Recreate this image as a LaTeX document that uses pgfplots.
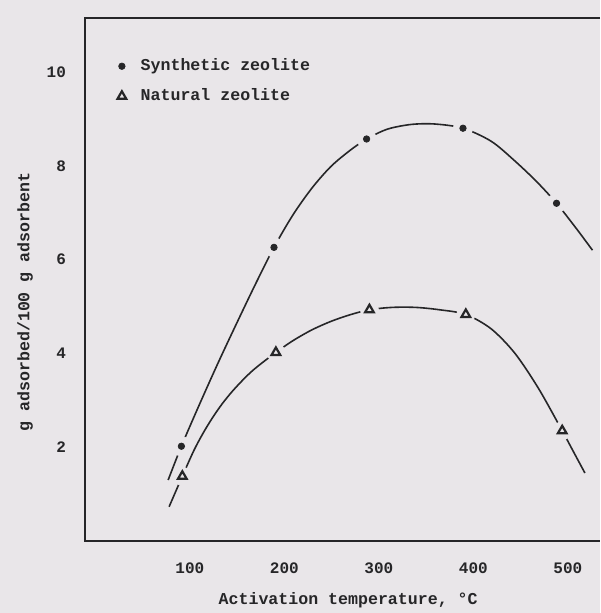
\documentclass[border=0pt]{standalone}
\usepackage{fontspec}
\setmainfont{Liberation Mono}
\usepackage{pgfplots}
\usepackage{pgfplotstable}
\pgfplotsset{compat=1.18}

\definecolor{paper}{RGB}{233,230,233}
\definecolor{ink}{RGB}{38,38,40}

% markers and points along the hand-drawn curves
\pgfplotstableread{
x y
102 2.02
200 6.26
298 8.57
400 8.80
499 7.20
}\synthpts

\pgfplotstableread{
x y
88 1.30
102 2.02
120 2.86
140 3.76
160 4.62
180 5.46
200 6.26
220 6.95
240 7.52
260 7.98
280 8.32
298 8.57
320 8.78
345 8.88
370 8.89
400 8.80
430 8.52
455 8.10
478 7.66
499 7.20
520 6.66
537 6.20
}\synthcurve

\pgfplotstableread{
x y
103 1.38
202 4.02
301 4.93
403 4.83
505 2.35
}\natpts

\pgfplotstableread{
x y
89 0.73
103 1.38
115 1.92
125 2.30
135 2.63
145 2.92
155 3.17
165 3.39
175 3.59
185 3.76
202 4.02
220 4.27
240 4.50
260 4.68
280 4.82
301 4.93
325 4.98
350 4.98
375 4.93
403 4.83
430 4.52
455 4.00
480 3.25
505 2.35
517 1.90
529 1.45
}\natcurve

\begin{document}
\begin{tikzpicture}
\fill[paper] (-42.5pt,-36pt) rectangle (257.5pt,270.5pt);
\begin{axis}[
    at={(0pt,0pt)}, anchor=south west,
    scale only axis,
    width=257.5pt, height=261.5pt,
    xmin=0, xmax=545,
    ymin=0, ymax=11.15,
    axis line style={draw=none},
    major tick length=0pt,
    xtick={100,200,300,400,500},
    ytick={2,4,6,8,10},
    /pgf/number format/assume math mode=true,
    ticklabel style={font=\fontsize{8}{9}\selectfont\bfseries, text=ink},
    xticklabel style={xshift=5.2pt, yshift=-7.5pt},
    yticklabel style={xshift=-6pt},
    xlabel={Activation temperature, °C},
    ylabel={g adsorbed/100 g adsorbent},
    label style={font=\fontsize{8.3}{10}\selectfont\bfseries, text=ink},
    xlabel style={at={(axis description cs:0.511,-0.113)}, anchor=center},
    ylabel style={at={(axis description cs:-0.1165,0.457)}, anchor=center},
    legend style={draw=none, fill=none, at={(axis description cs:0.039,0.942)},
        anchor=north west, font=\fontsize{8.3}{10}\selectfont\bfseries, text=ink,
        row sep=3.5pt, inner sep=3pt},
    legend cell align=left,
    legend image code/.code={\path (-5pt,0pt) (7.2pt,0pt);
        \draw[#1] plot coordinates {(0pt,0pt)};},
    clip=false,
]
\draw[ink, line width=1pt] (rel axis cs:1,1) -- (rel axis cs:0,1)
    -- (rel axis cs:0,0) -- (rel axis cs:1,0);

\addplot[forget plot, ink, line width=0.8pt, smooth] table {\synthcurve};
\addplot[forget plot, ink, line width=0.8pt, smooth] table {\natcurve};

% gaps in the curves round each marker
\addplot[forget plot, only marks, mark=*, mark size=4.8pt, paper] table {\synthpts};
\addplot[forget plot, only marks, mark=*, mark size=4.5pt, paper] table {\natpts};

\addplot[only marks, mark=*, mark size=1.6pt, ink] table {\synthpts};
\addlegendentry{Synthetic zeolite}
\addplot[only marks, mark=triangle, mark size=2.5pt, ink,
    mark options={line width=1.1pt}] table {\natpts};
\addlegendentry{Natural zeolite}
\end{axis}
\pgfresetboundingbox
\path[use as bounding box] (-42.5pt,-36pt) rectangle (257.5pt,270.5pt);
\end{tikzpicture}
\end{document}
